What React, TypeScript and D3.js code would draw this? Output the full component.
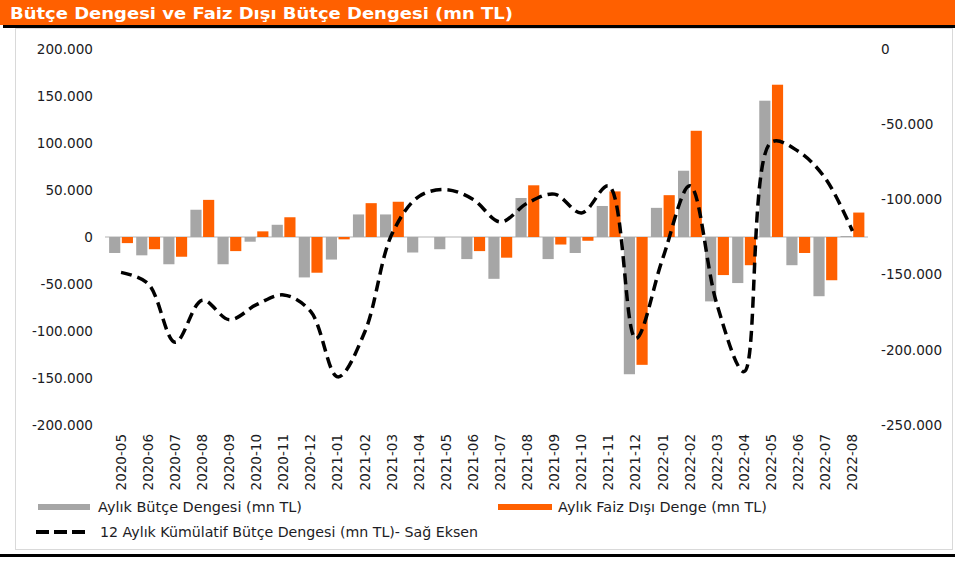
import * as d3 from 'd3';
import React, { useEffect, useRef } from "react";

// aylar (x ekseni)
const months = [
    '2020-05', '2020-06', '2020-07', '2020-08', '2020-09', '2020-10', '2020-11', '2020-12',
    '2021-01', '2021-02', '2021-03', '2021-04', '2021-05', '2021-06', '2021-07', '2021-08',
    '2021-09', '2021-10', '2021-11', '2021-12',
    '2022-01', '2022-02', '2022-03', '2022-04', '2022-05', '2022-06', '2022-07', '2022-08',
];

// Aylık Bütçe Dengesi (mn TL) - sol eksen
const aylikButce = [
    -17000, -19500, -29000, 29000, -29000, -5000, 13000, -43000,
    -24000, 24000, 24000, -16500, -13000, -23500, -44500, 41500,
    -23500, -17000, 33000, -146000,
    31000, 70500, -68500, -49000, 145000, -30000, -63000, 1000,
];

// Aylık Faiz Dışı Denge (mn TL) - sol eksen
const faizDisi = [
    -6500, -13000, -21000, 39500, -15000, 6000, 21000, -38000,
    -2500, 36000, 37500, 0, 0, -15000, -22000, 55000,
    -8000, -4000, 48500, -136000,
    44500, 113000, -40500, -30000, 162000, -17000, -46000, 26000,
];

// 12 Aylık Kümülatif Bütçe Dengesi (mn TL) - sağ eksen
const kumulatif = [
    -148500, -156000, -195000, -167000, -180000, -170000, -163500, -174500,
    -218000, -188000, -123000, -98000, -93500, -100000, -115000, -102500,
    -96500, -109000, -91000, -192500,
    -139000, -91000, -170000, -214500, -62000, -68000, -86000, -121000,
];

const solTicks = [200000, 150000, 100000, 50000, 0, -50000, -100000, -150000, -200000];
const sagTicks = [0, -50000, -100000, -150000, -200000, -250000];

const App: React.FC = () => {
    const ref = useRef<SVGSVGElement>(null);

    useEffect(() => {
        if (!ref.current) return;
        document.body.style.margin = '0';

        const width = 955;
        const height = 566;
        const top = 49;
        const bottom = 425;
        const font = "'DejaVu Sans', Verdana, sans-serif";
        const textColor = '#1c1c24';
        const gri = '#a6a6a6';
        const turuncu = '#ff6000';

        const svg = d3.select(ref.current)
            .attr('width', width)
            .attr('height', height)
            .style('display', 'block');
        svg.selectAll('*').remove();

        const fmt = d3.formatLocale({
            decimal: ',', thousands: '.', grouping: [3], currency: ['', ''], minus: '-',
        }).format(',');

        // başlık
        svg.append('rect').attr('x', 0).attr('y', 0).attr('width', width).attr('height', 25).attr('fill', turuncu);
        svg.append('rect').attr('x', 3).attr('y', 25).attr('width', width - 3).attr('height', 3).attr('fill', '#000');
        svg.append('text')
            .attr('x', 10).attr('y', 19)
            .attr('fill', '#fff')
            .attr('font-family', font)
            .attr('font-weight', 'bold')
            .attr('font-size', 16)
            .attr('textLength', 503)
            .attr('lengthAdjust', 'spacingAndGlyphs')
            .text('Bütçe Dengesi ve Faiz Dışı Bütçe Dengesi (mn TL)');

        // panel
        svg.append('rect')
            .attr('x', 15.5).attr('y', 28.5).attr('width', 937).attr('height', 521)
            .attr('fill', '#fff').attr('stroke', '#d9d9d9');
        svg.append('rect').attr('x', 0).attr('y', 554).attr('width', width).attr('height', 3).attr('fill', '#000');

        const x0 = d3.scaleBand<string>()
            .domain(months)
            .range([107.5, 866])
            .paddingInner(0.12)
            .paddingOuter(0.06);
        const x1 = d3.scaleBand<string>()
            .domain(['butce', 'faiz'])
            .range([0, x0.bandwidth()])
            .paddingInner(0.12);
        const yL = d3.scaleLinear().domain([-200000, 200000]).range([bottom, top]);
        const yR = d3.scaleLinear().domain([-250000, 0]).range([bottom, top]);

        // sol eksen
        svg.append('g').selectAll('text')
            .data(solTicks)
            .enter()
            .append('text')
            .attr('x', 93)
            .attr('y', d => yL(d))
            .attr('dy', '0.35em')
            .attr('text-anchor', 'end')
            .attr('font-family', font)
            .attr('font-size', 13.6)
            .attr('fill', textColor)
            .text(d => fmt(d));

        // sağ eksen
        svg.append('g').selectAll('text')
            .data(sagTicks)
            .enter()
            .append('text')
            .attr('x', 881)
            .attr('y', d => yR(d))
            .attr('dy', '0.35em')
            .attr('font-family', font)
            .attr('font-size', 13.6)
            .attr('fill', textColor)
            .text(d => fmt(d));

        // sıfır çizgisi
        svg.append('line')
            .attr('x1', 105).attr('x2', 868)
            .attr('y1', yL(0)).attr('y2', yL(0))
            .attr('stroke', '#d9d9d9').attr('stroke-width', 2);

        // barlar
        const groups = svg.append('g').selectAll('g')
            .data(months)
            .enter()
            .append('g')
            .attr('transform', d => `translate(${x0(d)},0)`);

        groups.append('rect')
            .attr('x', x1('butce')!)
            .attr('width', x1.bandwidth())
            .attr('y', (d, i) => yL(Math.max(0, aylikButce[i])))
            .attr('height', (d, i) => Math.abs(yL(aylikButce[i]) - yL(0)))
            .attr('fill', gri);

        groups.append('rect')
            .attr('x', x1('faiz')!)
            .attr('width', x1.bandwidth())
            .attr('y', (d, i) => yL(Math.max(0, faizDisi[i])))
            .attr('height', (d, i) => Math.abs(yL(faizDisi[i]) - yL(0)))
            .attr('fill', turuncu);

        // kümülatif çizgi
        const line = d3.line<number>()
            .x((d, i) => x0(months[i])! + x0.bandwidth() / 2)
            .y(d => yR(d))
            .curve(d3.curveCatmullRom.alpha(0.5));

        svg.append('path')
            .datum(kumulatif)
            .attr('d', line)
            .attr('fill', 'none')
            .attr('stroke', '#000')
            .attr('stroke-width', 3.5)
            .attr('stroke-dasharray', '11,6');

        // x etiketleri
        svg.append('g').selectAll('text')
            .data(months)
            .enter()
            .append('text')
            .attr('transform', d => `translate(${x0(d)! + x0.bandwidth() / 2},434) rotate(-90)`)
            .attr('dy', '0.35em')
            .attr('text-anchor', 'end')
            .attr('font-family', font)
            .attr('font-size', 13.5)
            .attr('fill', textColor)
            .text(d => d);

        // lejant
        const legend = svg.append('g').attr('font-family', font).attr('font-size', 14).attr('fill', textColor);
        legend.append('line').attr('x1', 38).attr('x2', 90).attr('y1', 507).attr('y2', 507)
            .attr('stroke', gri).attr('stroke-width', 6);
        legend.append('text').attr('x', 98).attr('y', 507).attr('dy', '0.35em')
            .attr('textLength', 204).attr('lengthAdjust', 'spacingAndGlyphs')
            .text('Aylık Bütçe Dengesi (mn TL)');
        legend.append('line').attr('x1', 498).attr('x2', 552).attr('y1', 507).attr('y2', 507)
            .attr('stroke', turuncu).attr('stroke-width', 6);
        legend.append('text').attr('x', 558).attr('y', 507).attr('dy', '0.35em')
            .attr('textLength', 209).attr('lengthAdjust', 'spacingAndGlyphs')
            .text('Aylık Faiz Dışı Denge (mn TL)');
        legend.append('line').attr('x1', 36).attr('x2', 90).attr('y1', 532).attr('y2', 532)
            .attr('stroke', '#000').attr('stroke-width', 4).attr('stroke-dasharray', '13,5');
        legend.append('text').attr('x', 100).attr('y', 532).attr('dy', '0.35em')
            .attr('textLength', 378).attr('lengthAdjust', 'spacingAndGlyphs')
            .text('12 Aylık Kümülatif Bütçe Dengesi (mn TL)- Sağ Eksen');
    }, []);

    return (<svg ref={ref}></svg>);
}

export default App;
